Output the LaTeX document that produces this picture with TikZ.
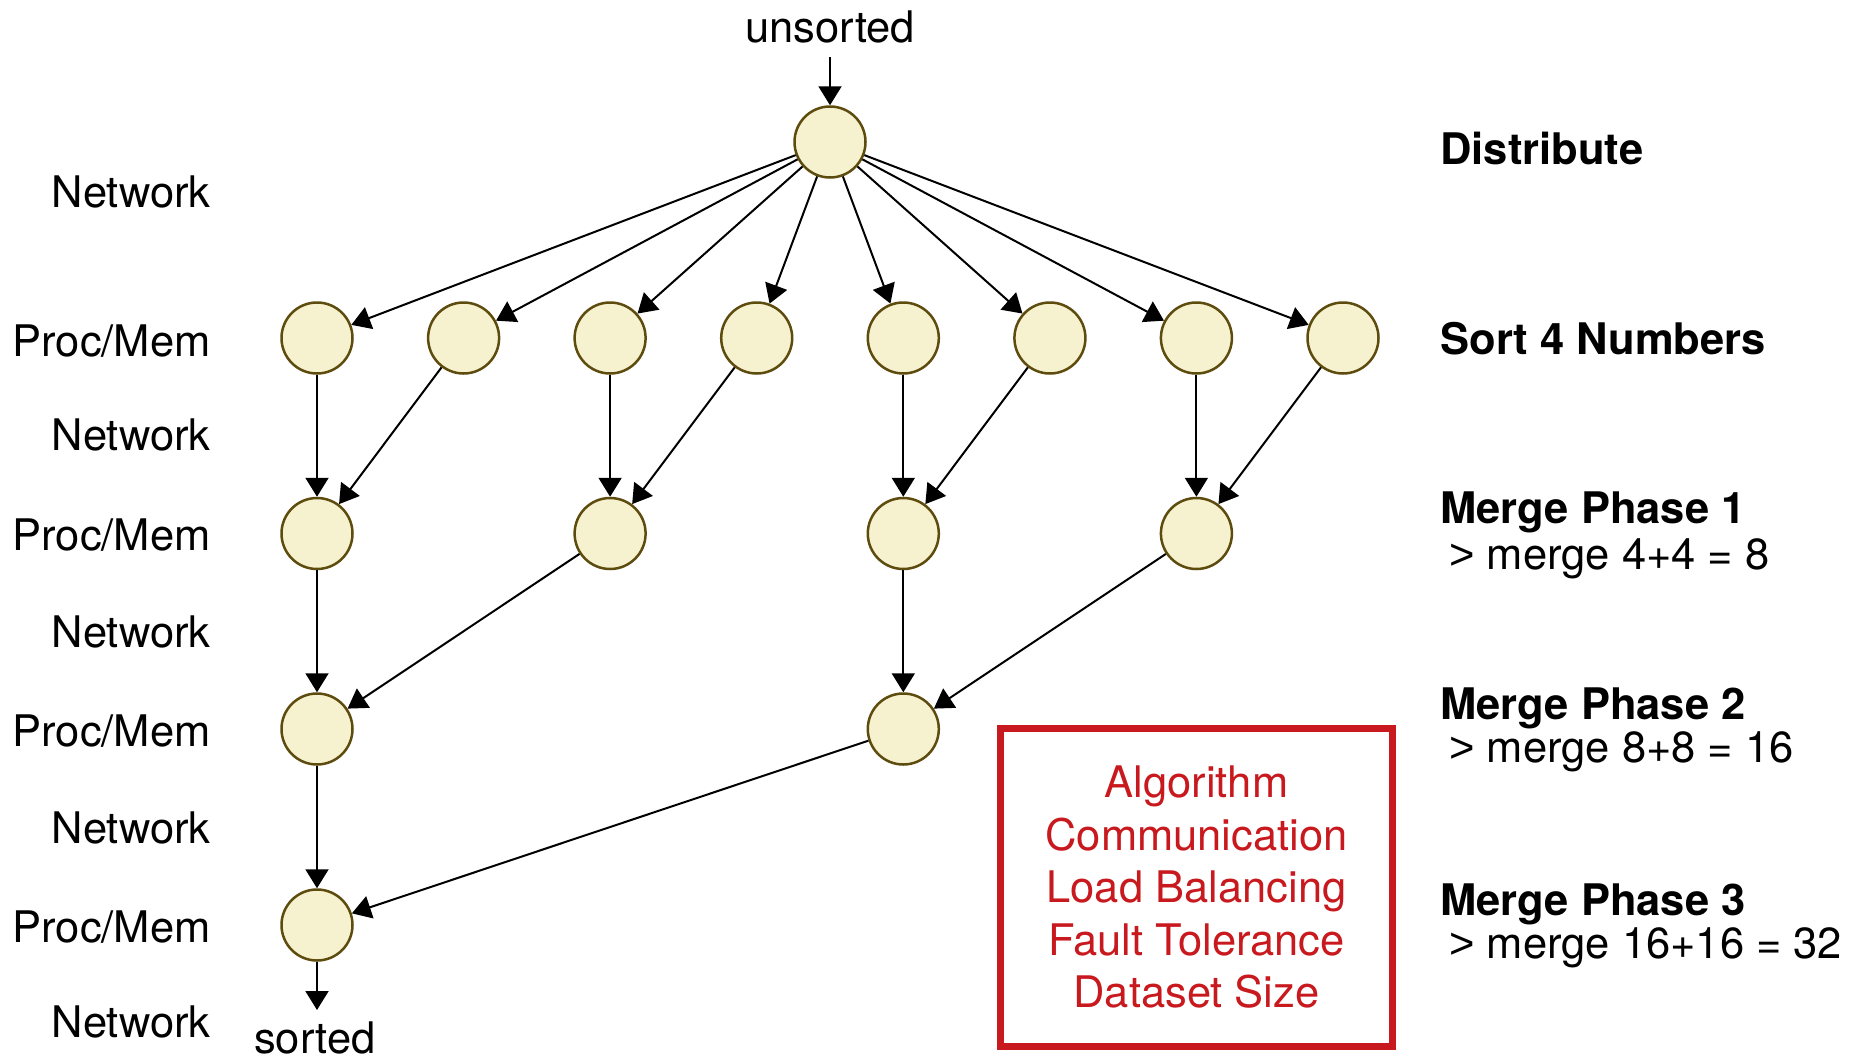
\documentclass[tikz,border=0pt]{standalone}
\usepackage{fontspec}
\setmainfont{TeX Gyre Heros}
\newfontfamily\gtfont{Liberation Sans}
\usetikzlibrary{arrows.meta}
\definecolor{nodefill}{HTML}{F6F2CF}
\definecolor{nodeline}{HTML}{5E4B0E}
\definecolor{boxred}{HTML}{C8191E}
\newcommand{\gtsign}{{\gtfont >}}
\begin{document}
\begin{tikzpicture}[x=0.5pt,y=-0.5pt,
  proc/.style={circle, draw=nodeline, fill=nodefill, line width=1.25pt, minimum size=35.5pt, inner sep=0pt},
  conn/.style={-{Triangle[length=9.5pt,width=11.5pt]}, line width=1pt, black},
  lbl/.style={inner sep=0pt, text height=15.6pt, text depth=0pt, font=\fontsize{21.75}{26}\selectfont},
  leftlbl/.style={lbl, anchor=east},
  rightlbl/.style={lbl, anchor=west},
  phase/.style={rightlbl, font=\fontsize{21.75}{26}\selectfont\bfseries},
  issuebox/.style={draw=boxred, line width=3.4pt, minimum width=196pt, minimum height=159pt, inner sep=0pt,
    text=boxred, align=center, font=\fontsize{21.75}{26.25}\selectfont}
]
\useasboundingbox (0,0) rectangle (1872,1060);

% processor nodes
\node[proc] (top) at (830,142) {};
\foreach \i/\x in {0/317,1/463.6,2/610.1,3/756.7,4/903.3,5/1049.9,6/1196.4,7/1343}
  \node[proc] (a\i) at (\x,338) {};
\foreach \i/\x in {0/317,1/610.1,2/903.3,3/1196.4}
  \node[proc] (b\i) at (\x,533.5) {};
\node[proc] (c0) at (317,729) {};
\node[proc] (c1) at (903.3,729) {};
\node[proc] (d0) at (317,925) {};

% input / output
\node[lbl] (unsorted) at (830,27) {unsorted};
\node[lbl] (sorted) at (315,1038) {sorted};
\coordinate (in) at (830,57);
\coordinate (out) at (317,1010);
\draw[conn] (in) -- (top);
\draw[conn] (d0) -- (out);

% connectors
\foreach \i in {0,...,7} \draw[conn] (top) -- (a\i);
\draw[conn] (a0) -- (b0);
\draw[conn] (a1) -- (b0);
\draw[conn] (a2) -- (b1);
\draw[conn] (a3) -- (b1);
\draw[conn] (a4) -- (b2);
\draw[conn] (a5) -- (b2);
\draw[conn] (a6) -- (b3);
\draw[conn] (a7) -- (b3);
\draw[conn] (b0) -- (c0);
\draw[conn] (b1) -- (c0);
\draw[conn] (b2) -- (c1);
\draw[conn] (b3) -- (c1);
\draw[conn] (c0) -- (d0);
\draw[conn] (c1) -- (d0);

% left labels
\node[leftlbl] (n1) at (211,192) {Network};
\node[leftlbl] (p1) at (211,341) {Proc/Mem};
\node[leftlbl] (n2) at (211,435) {Network};
\node[leftlbl] (p2) at (211,535) {Proc/Mem};
\node[leftlbl] (n3) at (211,632) {Network};
\node[leftlbl] (p3) at (211,731) {Proc/Mem};
\node[leftlbl] (n4) at (211,828) {Network};
\node[leftlbl] (p4) at (211,927) {Proc/Mem};
\node[leftlbl] (n5) at (211,1022) {Network};

% right labels
\node[phase] (dist) at (1440,149) {Distribute};
\node[phase] (sort) at (1440,339) {Sort 4 Numbers};
\node[phase] (mp1) at (1440,508) {Merge Phase 1};
\node[rightlbl] (mp1s) at (1449,554) {\gtsign{} merge 4+4 = 8};
\node[phase] (mp2) at (1440,704) {Merge Phase 2};
\node[rightlbl] (mp2s) at (1449,747) {\gtsign{} merge 8+8 = 16};
\node[phase] (mp3) at (1440,900) {Merge Phase 3};
\node[rightlbl] (mp3s) at (1449,943) {\gtsign{} merge 16+16 = 32};

% issues box
\node[issuebox] (issues) at (1196.5,887.5) {Algorithm\\Communication\\Load Balancing\\Fault Tolerance\\Dataset Size};
\end{tikzpicture}
\end{document}
